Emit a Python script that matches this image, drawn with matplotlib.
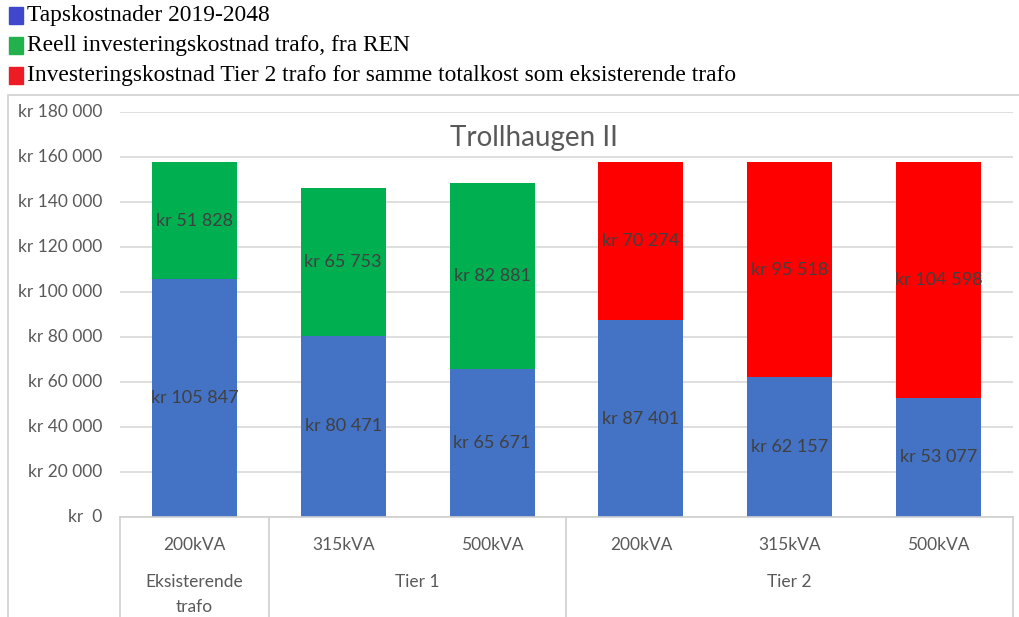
import matplotlib.pyplot as plt
from matplotlib.patches import Rectangle
from matplotlib.lines import Line2D
from matplotlib.transforms import blended_transform_factory

# Data
kva = ["200kVA", "315kVA", "500kVA", "200kVA", "315kVA", "500kVA"]
groups = ["Eksisterende\ntrafo", "Tier 1", "Tier 2"]
group_sizes = [1, 2, 3]
taps = [105847, 80471, 65671, 87401, 62157, 53077]
reell = [51828, 65753, 82881, 0, 0, 0]
tier2 = [0, 0, 0, 70274, 95518, 104598]
legend_labels = ["Tapskostnader 2019-2048",
                 "Reell investeringskostnad trafo, fra REN",
                 "Investeringskostnad Tier 2 trafo for samme totalkost som eksisterende trafo"]
yticks = [0, 20000, 40000, 60000, 80000, 100000, 120000, 140000, 160000, 180000]

W, H = 1020, 617
fig = plt.figure(figsize=(W / 100, H / 100), dpi=100)
font = "Lato"
gray = "#595959"

# outer chart border
fig.patches.append(Rectangle((8 / W, -0.01), 1.1, 1 - 95 / H + 0.01, transform=fig.transFigure,
                             fill=False, edgecolor="#D0D0D0", lw=1.2))

# legend (serif, colored squares)
leg_colors = ["#3F48CC", "#22B14C", "#ED1C24"]
for i, (lab, c) in enumerate(zip(legend_labels, leg_colors)):
    yc = 1 - (16 + i * 30) / H
    fig.patches.append(Rectangle((9 / W, yc - 8 / H), 14 / W, 17 / H, transform=fig.transFigure,
                                 color=c))
    fig.text(27 / W, yc, lab, family="Liberation Serif", fontsize=16.9, va="center", ha="left",
             color="black")

ax = fig.add_axes([120 / W, 1 - 517 / H, (1013 - 120) / W, (517 - 112) / H])
x = list(range(len(kva)))
bw = 0.57
ax.bar(x, taps, bw, color="#4472C4", zorder=3)
ax.bar(x, reell, bw, bottom=taps, color="#00B050", zorder=3)
ax.bar(x, tier2, bw, bottom=taps, color="#FF0000", zorder=3)

ax.set_xlim(-0.5, len(kva) - 0.5)
ax.set_ylim(0, 180000)
for s in ax.spines.values():
    s.set_visible(False)
ax.set_xticks([])
ax.set_yticks(yticks)
ax.tick_params(axis="y", length=0, labelleft=False)
ax.grid(axis="y", color="#D9D9D9", lw=1.2, zorder=0)

# y tick labels
ytr = blended_transform_factory(fig.transFigure, ax.transData)
for v in yticks:
    s = f"kr {v:,}".replace(",", " ") if v else "kr  0"
    ax.text(102 / W, v, s, transform=ytr, ha="right", va="center", fontsize=12.5,
            family=font, color=gray)

# data labels
for i in x:
    lab_color = "#404040"
    ax.text(i, taps[i] / 2, f"kr {taps[i]:,}".replace(",", " "), ha="center", va="center",
            fontsize=13, family=font, color=lab_color, zorder=4)
    top = reell[i] if reell[i] else tier2[i]
    ax.text(i, taps[i] + top / 2, f"kr {top:,}".replace(",", " "), ha="center", va="center",
            fontsize=13, family=font, color=lab_color, zorder=4)

fig.text(534 / W, 1 - 138 / H, "Trollhaugen II", ha="center", va="center", fontsize=20,
         family=font, color=gray, zorder=5)

# multi-level category axis
xtr = blended_transform_factory(ax.transData, fig.transFigure)
ybase = 1 - 517 / H
line_c = "#D0D0D0"
fig.lines.append(Line2D([120 / W, 1013 / W], [ybase, ybase], transform=fig.transFigure,
                        color=line_c, lw=1.2))
for i, lab in enumerate(kva):
    ax.text(i, 1 - 545 / H, lab, transform=xtr, ha="center", va="center", fontsize=12.5,
            family=font, color=gray)
start = 0
bounds = [-0.5]
for g, n in zip(groups, group_sizes):
    center = start + (n - 1) / 2
    if "\n" in g:
        ax.text(center, 1 - 582 / H, g.split("\n")[0], transform=xtr, ha="center", va="center",
                fontsize=12.5, family=font, color=gray)
        ax.text(center, 1 - 607 / H, g.split("\n")[1], transform=xtr, ha="center", va="center",
                fontsize=12.5, family=font, color=gray)
    else:
        ax.text(center, 1 - 582 / H, g, transform=xtr, ha="center", va="center", fontsize=12.5,
                family=font, color=gray)
    start += n
    bounds.append(start - 0.5)
for b in bounds:
    ax.add_line(Line2D([b, b], [0, ybase], transform=xtr, color=line_c, lw=1.2, clip_on=False))

fig.savefig("out.png", dpi=100)
